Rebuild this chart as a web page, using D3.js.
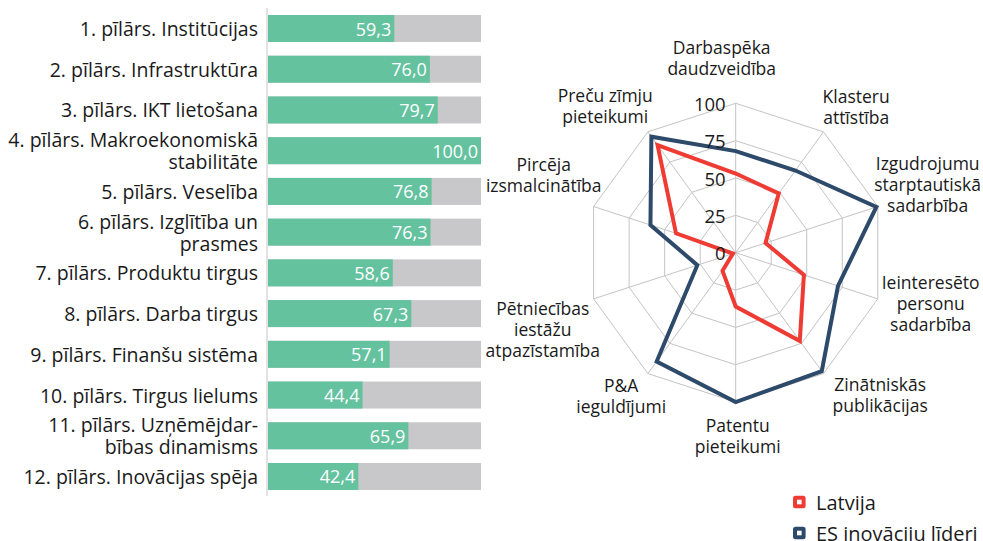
<!DOCTYPE html>
<html>
<head>
<meta charset="utf-8">
<script src="https://cdn.jsdelivr.net/npm/d3@7"></script>
<style>
  html, body { margin: 0; padding: 0; background: #ffffff; }
  svg { display: block; }
  text { font-family: "Open Sans", "Noto Sans", sans-serif; fill: #1a1a1a; }
</style>
</head>
<body>
<div id="chart"></div>
<script>
// ---------- DATA ----------
const pillarLabels = [
  "1. pīlārs. Institūcijas",
  "2. pīlārs. Infrastruktūra",
  "3. pīlārs. IKT lietošana",
  "4. pīlārs. Makroekonomiskā\nstabilitāte",
  "5. pīlārs. Veselība",
  "6. pīlārs. Izglītība un\nprasmes",
  "7. pīlārs. Produktu tirgus",
  "8. pīlārs. Darba tirgus",
  "9. pīlārs. Finanšu sistēma",
  "10. pīlārs. Tirgus lielums",
  "11. pīlārs. Uzņēmējdar-\nbības dinamisms",
  "12. pīlārs. Inovācijas spēja"
];
const pillarValues = [59.3, 76.0, 79.7, 100.0, 76.8, 76.3, 58.6, 67.3, 57.1, 44.4, 65.9, 42.4];
const pillarMax = 100;

const radarAxes = [
  "Darbaspēka\ndaudzveidība",
  "Klasteru\nattīstība",
  "Izgudrojumu\nstarptautiskā\nsadarbība",
  "Ieinteresēto\npersonu\nsadarbība",
  "Zinātniskās\npublikācijas",
  "Patentu\npieteikumi",
  "P&A\nieguldījumi",
  "Pētniecības\niestāžu\natpazīstamība",
  "Pircēja\nizsmalcinātība",
  "Preču zīmju\npieteikumi"
];
const latvijaValues = [53, 49, 21, 48, 73, 36, 15, 2, 42, 89];
const esLeaderValues = [68, 68, 99, 72, 98, 100, 90, 27, 60, 96];
const radarTicks = [0, 25, 50, 75, 100];
const seriesNames = ["Latvija", "ES inovāciju līderi"];

// ---------- STYLE ----------
const W = 983, H = 541;
const GREEN = "#64c29f", GREY = "#c8c8ca";
const RED = "#ee3b33", BLUE = "#2e4a6b";
const FS = 17.5;      // radar labels
const FS_CAT = 19.5;  // bar category labels

const svg = d3.select("#chart").append("svg").attr("width", W).attr("height", H);

// ---------- BAR CHART ----------
const x = d3.scaleLinear().domain([0, pillarMax]).range([268, 481]);
const y = d3.scaleBand().domain(d3.range(pillarLabels.length))
  .range([8.15, 496.85]).paddingInner(0.337).paddingOuter(0.1685);

const bars = svg.append("g");
bars.selectAll("rect.bg").data(pillarValues).join("rect")
  .attr("class", "bg")
  .attr("x", x(0)).attr("y", (d, i) => y(i))
  .attr("width", x(pillarMax) - x(0)).attr("height", y.bandwidth())
  .attr("fill", GREY);
bars.selectAll("rect.val").data(pillarValues).join("rect")
  .attr("class", "val")
  .attr("x", x(0)).attr("y", (d, i) => y(i))
  .attr("width", d => x(d) - x(0)).attr("height", y.bandwidth())
  .attr("fill", GREEN);
bars.selectAll("text.val").data(pillarValues).join("text")
  .attr("class", "val")
  .attr("x", d => x(d) - 3).attr("y", (d, i) => y(i) + y.bandwidth() / 2)
  .attr("text-anchor", "end").attr("dominant-baseline", "central")
  .style("fill", "#ffffff").style("font-size", "18px")
  .text(d => d.toFixed(1).replace(".", ","));

// axis line
svg.append("line")
  .attr("x1", 267).attr("x2", 267).attr("y1", 8).attr("y2", 496)
  .attr("stroke", "#d9d9d9").attr("stroke-width", 1.5);

// category labels
const catG = svg.append("g");
pillarLabels.forEach((lab, i) => {
  const lines = lab.split("\n");
  const cy = y(i) + y.bandwidth() / 2;
  const lh = 22;
  const t = catG.append("text")
    .attr("text-anchor", "end").style("font-size", FS_CAT + "px");
  lines.forEach((ln, k) => {
    t.append("tspan").attr("x", 258)
      .attr("y", cy + (k - (lines.length - 1) / 2) * lh)
      .attr("dominant-baseline", "central")
      .text(ln);
  });
});

// ---------- RADAR ----------
const C = { x: 735.7, y: 252.7 };
const R = 149.4;
const n = radarAxes.length;
const ang = i => i * 2 * Math.PI / n;
const r = d3.scaleLinear().domain([0, 100]).range([0, R]);

const rg = svg.append("g").attr("transform", `translate(${C.x},${C.y})`);

// rings
radarTicks.filter(t => t > 0).forEach(t => {
  const pts = d3.range(n).map(i => [r(t) * Math.sin(ang(i)), -r(t) * Math.cos(ang(i))]);
  rg.append("polygon").attr("points", pts.map(p => p.join(",")).join(" "))
    .attr("fill", "none").attr("stroke", "#c4c4c4").attr("stroke-width", 1);
});
// spokes
d3.range(n).forEach(i => {
  rg.append("line").attr("x1", 0).attr("y1", 0)
    .attr("x2", r(100) * Math.sin(ang(i))).attr("y2", -r(100) * Math.cos(ang(i)))
    .attr("stroke", "#c4c4c4").attr("stroke-width", 1);
});

// tick labels
radarTicks.forEach(t => {
  svg.append("text").attr("x", C.x - 10).attr("y", C.y - r(t))
    .attr("text-anchor", "end").attr("dominant-baseline", "central")
    .style("font-size", "18.5px").text(t);
});

// series
const radial = d3.lineRadial().angle((d, i) => ang(i)).radius(d => r(d)).curve(d3.curveLinearClosed);
[[latvijaValues, RED], [esLeaderValues, BLUE]].forEach(([vals, col]) => {
  rg.append("path").attr("d", radial(vals))
    .attr("fill", "none").attr("stroke", col).attr("stroke-width", 4)
    .attr("stroke-linejoin", "miter");
});

// axis labels
const nudge = [[-14, -13], [0, 1], [-3, -12], [0, -6], [24, -5], [2, 1], [6, -4], [2, 20], [3, -22], [-10, 0]];
radarAxes.forEach((lab, i) => {
  const lines = lab.split("\n");
  const cx = C.x + 205 * Math.sin(ang(i)) + nudge[i][0];
  const cy = C.y - 182 * Math.cos(ang(i)) + nudge[i][1];
  const lh = 21;
  const t = svg.append("text").attr("text-anchor", "middle").style("font-size", FS + "px");
  lines.forEach((ln, k) => {
    t.append("tspan").attr("x", cx)
      .attr("y", cy + (k - (lines.length - 1) / 2) * lh)
      .attr("dominant-baseline", "central").text(ln);
  });
});

// ---------- LEGEND ----------
const lg = svg.append("g");
[[seriesNames[0], RED], [seriesNames[1], BLUE]].forEach(([name, col], k) => {
  const cy = 502 + k * 31;
  lg.append("rect").attr("x", 793).attr("y", cy - 6.3).attr("width", 12.6).attr("height", 12.6)
    .attr("rx", 2.5).attr("fill", col);
  lg.append("rect").attr("x", 793 + 4).attr("y", cy - 2.3).attr("width", 4.6).attr("height", 4.6)
    .attr("fill", "#ffffff");
  lg.append("text").attr("x", 816).attr("y", cy)
    .attr("dominant-baseline", "central").style("font-size", "20px").text(name);
});
</script>
</body>
</html>
